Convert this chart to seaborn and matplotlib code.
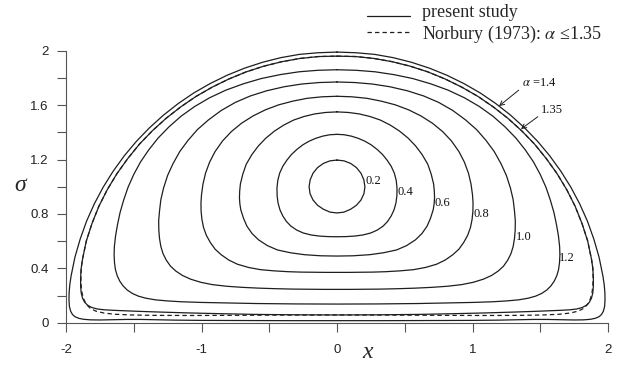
import matplotlib
matplotlib.use("Agg")
import matplotlib.pyplot as plt
import numpy as np
import pandas as pd
import seaborn as sns
from matplotlib.lines import Line2D
from matplotlib.legend_handler import HandlerLine2D

# Right halves (x >= 0) of each vortex-core boundary, traced from the top
# of the contour on the axis x = 0, round the right side, to its bottom.
ALPHA_LABELS = ["0.2", "0.4", "0.6", "0.8", "1.0", "1.2"]

CORE_020 = [(0.00, 1.196), (0.052, 1.190), (0.101, 1.171), (0.144, 1.140), (0.177, 1.099),
            (0.198, 1.051), (0.206, 1.000), (0.199, 0.949), (0.177, 0.902), (0.143, 0.863),
            (0.100, 0.834), (0.051, 0.813), (0.00, 0.807)]
CORE_040 = [(0.00, 1.385), (0.053, 1.382), (0.105, 1.372), (0.156, 1.356), (0.205, 1.335),
            (0.252, 1.308), (0.295, 1.275), (0.335, 1.238), (0.370, 1.195), (0.400, 1.150),
            (0.423, 1.100), (0.437, 1.046), (0.443, 0.990), (0.442, 0.934), (0.435, 0.880),
            (0.421, 0.830), (0.400, 0.785), (0.373, 0.744), (0.340, 0.710), (0.297, 0.681),
            (0.250, 0.660), (0.191, 0.645), (0.130, 0.637), (0.065, 0.633), (0.00, 0.632)]
CORE_060 = [(0.00, 1.550), (0.083, 1.546), (0.165, 1.535), (0.244, 1.516), (0.320, 1.490),
            (0.393, 1.453), (0.460, 1.410), (0.524, 1.358), (0.580, 1.300), (0.629, 1.235),
            (0.670, 1.165), (0.695, 1.093), (0.713, 1.020), (0.718, 0.970), (0.720, 0.920),
            (0.717, 0.875), (0.710, 0.830), (0.690, 0.768), (0.665, 0.710), (0.627, 0.656),
            (0.580, 0.610), (0.514, 0.567), (0.440, 0.535), (0.342, 0.514), (0.240, 0.500),
            (0.120, 0.492), (0.00, 0.490)]
CORE_080 = [(0.00, 1.665), (0.11, 1.661), (0.22, 1.650), (0.327, 1.629), (0.43, 1.602),
            (0.529, 1.565), (0.62, 1.520), (0.704, 1.467), (0.78, 1.405), (0.845, 1.336),
            (0.90, 1.258), (0.94, 1.181), (0.97, 1.100), (0.989, 1.020), (1.00, 0.940),
            (1.004, 0.880), (1.003, 0.820), (0.997, 0.760), (0.985, 0.700), (0.964, 0.642),
            (0.935, 0.590), (0.900, 0.541), (0.855, 0.500), (0.799, 0.461), (0.735, 0.430),
            (0.652, 0.406), (0.565, 0.390), (0.462, 0.381), (0.360, 0.375), (0.265, 0.372),
            (0.170, 0.371), (0.085, 0.370), (0.00, 0.370)]
CORE_100 = [(0.00, 1.770), (0.13, 1.766), (0.26, 1.755), (0.39, 1.735), (0.52, 1.705),
            (0.64, 1.667), (0.75, 1.620), (0.855, 1.560), (0.95, 1.490), (1.03, 1.420),
            (1.10, 1.340), (1.16, 1.259), (1.21, 1.170), (1.25, 1.083), (1.28, 0.990),
            (1.30, 0.905), (1.31, 0.820), (1.316, 0.750), (1.315, 0.680), (1.31, 0.620),
            (1.30, 0.560), (1.284, 0.508), (1.26, 0.460), (1.229, 0.416), (1.19, 0.380),
            (1.14, 0.347), (1.08, 0.320), (1.005, 0.297), (0.92, 0.280), (0.815, 0.268),
            (0.70, 0.260), (0.575, 0.254), (0.45, 0.250), (0.32, 0.247), (0.20, 0.246),
            (0.10, 0.245), (0.00, 0.245)]
CORE_120 = [(0.00, 1.860), (0.14, 1.856), (0.28, 1.845), (0.42, 1.824), (0.56, 1.795),
            (0.69, 1.757), (0.82, 1.710), (0.94, 1.654), (1.05, 1.590), (1.15, 1.519),
            (1.24, 1.440), (1.32, 1.358), (1.39, 1.270), (1.45, 1.182), (1.50, 1.090),
            (1.542, 0.996), (1.575, 0.900), (1.601, 0.810), (1.620, 0.720), (1.634, 0.640),
            (1.643, 0.560), (1.645, 0.500), (1.642, 0.440), (1.635, 0.390), (1.622, 0.345),
            (1.603, 0.305), (1.578, 0.270), (1.548, 0.240), (1.51, 0.215), (1.465, 0.195),
            (1.41, 0.180), (1.34, 0.168), (1.25, 0.160), (1.15, 0.154), (1.00, 0.149),
            (0.80, 0.145), (0.60, 0.141), (0.30, 0.138), (0.00, 0.137)]
CORE_135 = [(0.00, 1.960), (0.137, 1.957), (0.273, 1.943), (0.408, 1.919), (0.541, 1.886),
            (0.671, 1.844), (0.798, 1.792), (0.921, 1.732), (1.040, 1.664), (1.153, 1.587),
            (1.261, 1.503), (1.363, 1.411), (1.458, 1.313), (1.545, 1.206), (1.624, 1.096),
            (1.695, 0.979), (1.757, 0.857), (1.808, 0.730), (1.850, 0.601), (1.878, 0.468),
            (1.888, 0.400), (1.892, 0.330), (1.892, 0.270), (1.888, 0.220), (1.878, 0.180),
            (1.862, 0.150), (1.840, 0.128), (1.810, 0.112), (1.770, 0.101), (1.720, 0.095),
            (1.650, 0.091), (1.550, 0.087), (1.450, 0.083), (1.300, 0.078), (1.100, 0.072),
            (0.850, 0.066), (0.600, 0.061), (0.300, 0.058), (0.00, 0.057)]
CORE_140 = [(0.00, 1.990), (0.139, 1.985), (0.277, 1.973), (0.414, 1.949), (0.549, 1.915),
            (0.681, 1.872), (0.810, 1.820), (0.935, 1.759), (1.056, 1.690), (1.171, 1.612),
            (1.281, 1.526), (1.384, 1.433), (1.481, 1.333), (1.570, 1.227), (1.652, 1.114),
            (1.726, 0.996), (1.791, 0.874), (1.848, 0.747), (1.895, 0.616), (1.934, 0.482),
            (1.962, 0.346), (1.972, 0.280), (1.977, 0.220), (1.978, 0.170), (1.975, 0.120),
            (1.966, 0.085), (1.952, 0.060), (1.932, 0.043), (1.905, 0.032), (1.870, 0.025),
            (1.820, 0.021), (1.750, 0.020), (1.650, 0.022), (1.550, 0.024), (1.450, 0.024),
            (1.350, 0.022), (1.200, 0.019), (1.000, 0.017), (0.700, 0.016), (0.350, 0.015),
            (0.00, 0.015)]

# Norbury (1973) boundary for alpha = 1.35
NORBURY_135 = CORE_135[:20] + [
    (1.888, 0.400), (1.890, 0.330), (1.888, 0.270), (1.882, 0.220), (1.870, 0.175),
    (1.850, 0.135), (1.820, 0.105), (1.780, 0.085), (1.720, 0.071), (1.640, 0.062),
    (1.520, 0.057), (1.350, 0.054), (1.100, 0.053), (0.800, 0.054), (0.400, 0.056),
    (0.00, 0.057)]

# Contour label anchors (left edge, vertical centre)
LABEL_X = [0.214, 0.450, 0.723, 1.004, 1.321, 1.638]
LABEL_Y = [1.042, 0.963, 0.882, 0.797, 0.632, 0.478]


def closed_loop(half):
    """Mirror a right half about x = 0 into a closed contour."""
    left = [(-x, s) for (x, s) in reversed(half)][1:]
    return half + left


def frame(curves):
    rows = []
    for name, half in curves.items():
        for i, (x, s) in enumerate(closed_loop(half)):
            rows.append({"curve": name, "order": i, "x": x, "sigma": s})
    return pd.DataFrame(rows)


solid = frame({"0.2": CORE_020, "0.4": CORE_040, "0.6": CORE_060, "0.8": CORE_080,
               "1.0": CORE_100, "1.2": CORE_120, "1.35": CORE_135, "1.4": CORE_140})
dashed = frame({"1.35": NORBURY_135})

sns.set_style("ticks")
plt.rcParams["font.family"] = ["Liberation Sans", "DejaVu Sans"]
plt.rcParams["mathtext.fontset"] = "stix"

fig = plt.figure(figsize=(6.30, 3.67), dpi=100)
ax = fig.add_axes([66 / 630, 44.3 / 367, 542 / 630, 272 / 367])

LINE = "#1e1e1e"
DASH = (0, (3.5, 2.5))
sns.lineplot(data=solid, x="x", y="sigma", units="curve", estimator=None, sort=False,
             color=LINE, lw=0.9, ax=ax, legend=False)
sns.lineplot(data=dashed, x="x", y="sigma", units="curve", estimator=None, sort=False,
             color=LINE, lw=0.9, ax=ax, legend=False, linestyle=DASH)
for ln in ax.lines:
    ln.set_clip_on(False)
    ln.set_solid_joinstyle("round")

ax.set_xlim(-2, 2)
ax.set_ylim(0, 2)
ax.set_xticks([-2, -1, 0, 1, 2])
ax.set_xticklabels(["-2", "-1", "0", "1", "2"])
ax.set_xticks([-1.5, -0.5, 0.5, 1.5], minor=True)
ax.set_yticks([0, 0.4, 0.8, 1.2, 1.6, 2.0])
ax.set_yticklabels(["0", "0.4", "0.8", "1.2", "1.6", "2"])
ax.set_yticks([0.2, 0.6, 1.0, 1.4, 1.8], minor=True)
for which in ("major", "minor"):
    ax.tick_params(axis="both", which=which, direction="out", length=6.5, width=0.8,
                   color="#555555", labelsize=9.5, pad=6, labelcolor="#222222")
ax.tick_params(axis="x", which="major", pad=9)
for side in ("top", "right"):
    ax.spines[side].set_visible(False)
for side in ("left", "bottom"):
    ax.spines[side].set_color("#555555")
    ax.spines[side].set_linewidth(0.8)

ax.set_xlabel("x", fontsize=17, family="Liberation Serif", style="italic", va="center")
ax.xaxis.set_label_coords(0.557, -0.11)
ax.set_ylabel("σ", fontsize=17, family="Liberation Serif", style="italic", rotation=0,
              ha="center", va="center")
ax.yaxis.set_label_coords(-0.085, 0.506)

serif = dict(family="Liberation Serif", fontsize=9, color="#111111")
for txt, lx, ly in zip(ALPHA_LABELS, LABEL_X, LABEL_Y):
    ax.text(lx, ly, txt, ha="left", va="center", **serif)

arrow = dict(arrowstyle="->,head_length=0.35,head_width=0.18", lw=0.7, color=LINE,
             shrinkA=0, shrinkB=0, relpos=(0.0, 0.15))
ax.annotate(r"$\alpha$ =1.4", xy=(1.196, 1.593), xytext=(1.365, 1.76), ha="left",
            va="center", arrowprops=arrow, **serif)
ax.annotate("1.35", xy=(1.358, 1.424), xytext=(1.506, 1.563), ha="left", va="center",
            arrowprops=arrow, **serif)


class BaselineLine(HandlerLine2D):
    """Legend key drawn along the text baseline, like an underline."""

    def create_artists(self, legend, orig_handle, xdescent, ydescent, width, height,
                       fontsize, trans):
        arts = super().create_artists(legend, orig_handle, xdescent, ydescent, width,
                                      height, fontsize, trans)
        for a in arts:
            a.set_ydata(np.asarray(a.get_ydata()) - 0.4 * height)
        return arts


h_solid = Line2D([], [], color=LINE, lw=0.9)
h_dash = Line2D([], [], color=LINE, lw=0.9, linestyle=DASH)
fig.legend([h_solid, h_dash], ["present study", r"Norbury (1973): $\alpha$ ≤1.35"],
           loc="upper left", bbox_to_anchor=(367 / 630, 1 - 4 / 367),
           frameon=False, borderpad=0, borderaxespad=0, handlelength=2.4,
           handletextpad=0.66, labelspacing=0.15,
           handler_map={h_solid: BaselineLine()},
           prop=dict(family="Liberation Serif", size=13))

fig.savefig("out.png", dpi=100)
